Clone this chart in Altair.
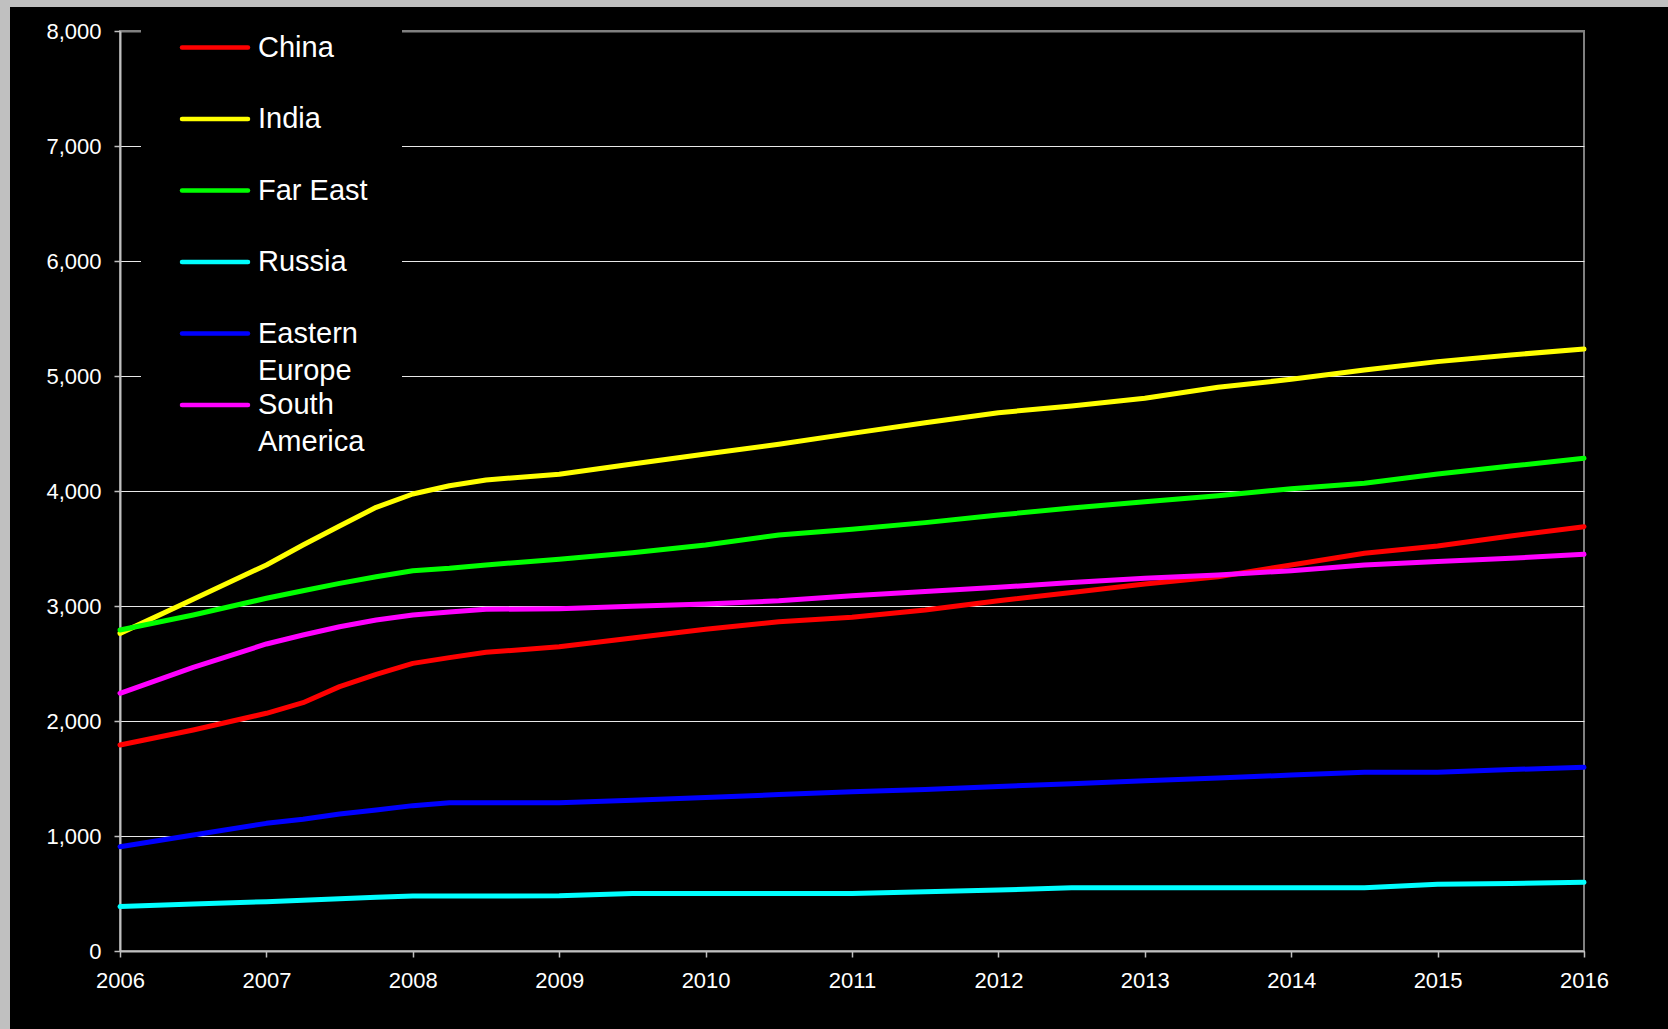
import altair as alt
import pandas as pd

years = [2006, 2006.5, 2007, 2007.25, 2007.5, 2007.75, 2008, 2008.25, 2008.5, 2009,
         2009.5, 2010, 2010.5, 2011, 2011.5, 2012, 2012.5, 2013, 2013.5, 2014,
         2014.5, 2015, 2015.5, 2016]

china = [1791, 1922, 2067, 2159, 2299, 2406, 2501, 2551, 2597, 2646,
         2722, 2797, 2864, 2902, 2965, 3046, 3118, 3191, 3255, 3357,
         3458, 3522, 3609, 3690]
india = [2762, 3058, 3357, 3530, 3696, 3858, 3974, 4046, 4096, 4145,
         4235, 4322, 4406, 4501, 4594, 4681, 4739, 4806, 4902, 4971,
         5052, 5125, 5183, 5235]
far_east = [2791, 2922, 3067, 3133, 3197, 3255, 3307, 3328, 3357, 3406,
            3464, 3530, 3617, 3667, 3725, 3791, 3852, 3907, 3959, 4020,
            4067, 4148, 4217, 4284]
russia = [386, 409, 429, 441, 455, 467, 478, 478, 478, 480,
          500, 500, 500, 500, 515, 530, 550, 550, 550, 550,
          550, 580, 588, 597]
eastern_europe = [907, 1009, 1110, 1145, 1191, 1226, 1264, 1290, 1290, 1290,
                  1310, 1335, 1360, 1385, 1405, 1430, 1455, 1480, 1505, 1530,
                  1555, 1555, 1578, 1597]
south_america = [2241, 2467, 2670, 2748, 2820, 2878, 2922, 2948, 2971, 2977,
                 2997, 3017, 3046, 3090, 3127, 3162, 3205, 3241, 3270, 3307,
                 3357, 3386, 3415, 3449]

series_names = ["China", "India", "Far East", "Russia", "Eastern Europe", "South America"]
legend_labels = ["China", "India", "Far East", "Russia", "Eastern\nEurope", "South\nAmerica"]
series_colors = ["#FF0000", "#FFFF00", "#00FF00", "#00FFFF", "#0000FF", "#FF00FF"]
series_values = [china, india, far_east, russia, eastern_europe, south_america]

x_ticks = list(range(2006, 2017))
y_ticks = list(range(0, 8001, 1000))

rows = []
for name, vals in zip(series_names, series_values):
    for yr, v in zip(years, vals):
        rows.append({"year": yr, "value": v, "region": name})
df = pd.DataFrame(rows)

legend_df = pd.DataFrame({
    "region": series_names,
    "label": legend_labels,
    "rank": list(range(len(series_names))),
})

W, H = 1464, 920
PL, PT, PR, PB = 120, 31, 84, 78
FONT = "Liberation Sans"

color_scale = alt.Scale(domain=series_names, range=series_colors)
one = pd.DataFrame({"k": [0]})

# decorative light-grey frame strips (top and left edge of the picture)
strip_top = alt.Chart(one).mark_rect(color="#C0C0C0").encode(
    x=alt.value(-PL), x2=alt.value(W + PR), y=alt.value(-PT), y2=alt.value(-PT + 7)
)
strip_left = alt.Chart(one).mark_rect(color="#C0C0C0").encode(
    x=alt.value(-PL), x2=alt.value(-PL + 10), y=alt.value(-PT), y2=alt.value(H + PB)
)
# black box behind the legend
legend_box = alt.Chart(one).mark_rect(color="black").encode(
    x=alt.value(21), x2=alt.value(282), y=alt.value(-2), y2=alt.value(439)
)

lines = alt.Chart(df).mark_line(strokeWidth=5, strokeCap="round", strokeJoin="round").encode(
    x=alt.X("year:Q",
            scale=alt.Scale(domain=[2006, 2016], nice=False, zero=False),
            axis=alt.Axis(values=x_ticks, format="d", title=None, grid=False,
                          tickSize=6, tickColor="#C0C0C0", tickWidth=1.5,
                          domainColor="#C0C0C0", domainWidth=2,
                          labelFontSize=22, labelColor="white", labelFont=FONT,
                          labelPadding=13, labelFlush=False)),
    y=alt.Y("value:Q",
            scale=alt.Scale(domain=[0, 8000], nice=False),
            axis=alt.Axis(values=y_ticks, format=",d", title=None, grid=True,
                          gridColor=alt.condition("datum.value == 8000",
                                                  alt.value("#808080"), alt.value("#E8E8E8")),
                          gridWidth=alt.condition("datum.value == 8000",
                                                  alt.value(2), alt.value(1)),
                          tickSize=6, tickColor="#C0C0C0", tickWidth=1.5,
                          domainColor="#C0C0C0", domainWidth=2,
                          labelFontSize=22, labelColor="white", labelFont=FONT,
                          labelPadding=13)),
    color=alt.Color("region:N", scale=color_scale, legend=None),
)

# legend: one entry per series, stacked with a rank scale
rank_y = alt.Y("rank:Q", scale=alt.Scale(domain=[0, 5], range=[16.5, 374]), axis=None)

legend_symbols = alt.Chart(legend_df).mark_rule(strokeWidth=4.5, strokeCap="round").encode(
    x=alt.value(62), x2=alt.value(128),
    y=rank_y,
    color=alt.Color("region:N", scale=color_scale, legend=None),
)
legend_text = alt.Chart(legend_df).mark_text(
    align="left", baseline="middle", fontSize=29, font=FONT, color="white",
    lineBreak="\n", lineHeight=37,
).encode(
    x=alt.value(138),
    y=rank_y,
    text="label:N",
)

legend_layer = alt.layer(legend_symbols, legend_text)

chart = alt.layer(strip_top, strip_left, legend_box, lines, legend_layer).resolve_scale(
    y="independent"
).properties(
    width=W, height=H,
    autosize=alt.AutoSizeParams(type="none"),
    padding={"left": PL, "top": PT, "right": PR, "bottom": PB},
    background="black",
).configure_view(stroke="#808080", strokeWidth=2)

chart.save("out.html", embed_options={"renderer": "svg", "actions": False})
